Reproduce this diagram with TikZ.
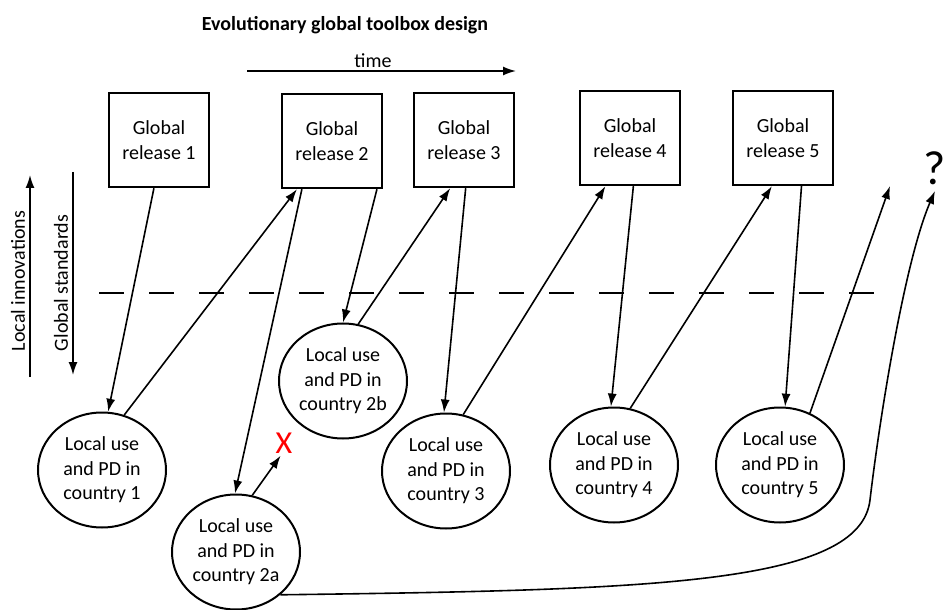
\documentclass[tikz,border=0pt]{standalone}
\usepackage{fontspec}
\setmainfont{Carlito}
\usetikzlibrary{shapes.geometric,arrows.meta}
\begin{document}
\begin{tikzpicture}[x=0.5pt,y=-0.5pt,>={Latex[length=6.5pt,width=4.5pt]},
  release/.style={draw,line width=1.2pt,minimum width=50pt,minimum height=47pt,align=center,inner sep=0pt,font=\fontsize{10}{12.5}\selectfont},
  localuse/.style={draw,ellipse,line width=1pt,minimum width=64pt,minimum height=57.5pt,align=center,inner sep=0pt,font=\fontsize{10}{12.2}\selectfont}]
\useasboundingbox (0,0) rectangle (944,610);

\node[font=\bfseries] (title) at (345,25) {Evolutionary global toolbox design};
\node (timelabel) at (373,61) {time};
\node[rotate=90] (innolabel) at (18,281) {Local innovations};
\node[rotate=90] (stdlabel) at (61,283) {Global standards};

\node[release] (gr1) at (159,140) {Global\\release 1};
\node[release] (gr2) at (332,141) {Global\\release 2};
\node[release] (gr3) at (464,140) {Global\\release 3};
\node[release] (gr4) at (630,138) {Global\\release 4};
\node[release] (gr5) at (783,138) {Global\\release 5};

\node[localuse] (c1) at (102,470) {Local use\\and PD in\\country 1};
\node[localuse] (c2a) at (236,552) {Local use\\and PD in\\country 2a};
\node[localuse] (c2b) at (343,381) {Local use\\and PD in\\country 2b};
\node[localuse] (c3) at (446,471) {Local use\\and PD in\\country 3};
\node[localuse] (c4) at (614,465) {Local use\\and PD in\\country 4};
\node[localuse] (c5) at (780,465) {Local use\\and PD in\\country 5};

\node[red,inner sep=1pt,font=\fontsize{16}{19}\selectfont] (cross) at (284,443) {X};
\node[inner sep=3pt,font=\fontsize{24}{28}\selectfont] (qmark) at (935,168) {?};

\coordinate (time0) at (247,71);
\coordinate (time1) at (516,71);
\coordinate (inno0) at (30,377);
\coordinate (inno1) at (30,175);
\coordinate (std0) at (73,172);
\coordinate (std1) at (73,375);
\coordinate (dash0) at (99,293);
\coordinate (dash1) at (895,293);
\coordinate (next5) at (890,186);
\coordinate (bend) at (870,500);

\path[draw,thick,->] (time0) -- (time1);
\path[draw,thick,->] (inno0) -- (inno1);
\path[draw,thick,->] (std0) -- (std1);
\path[draw,line width=1pt,dash pattern=on 12.5pt off 12.5pt] (dash0) -- (dash1);

\path[draw,thick,->] (gr1.264) -- (c1.84);
\path[draw,thick,->] (c1.68) -- (gr2.234);
\path[draw,thick,->] (gr2.238) -- (c2a.91);
\path[draw,thick,->] (c2a.74) -- (cross.255);
\path[draw,thick,->] (gr2.313) -- (c2b.90);
\path[draw,thick,->] (c2b.75) -- (gr3.254);
\path[draw,thick,->] (gr3.272) -- (c3.92);
\path[draw,thick,->] (c3.73) -- (gr4.243);
\path[draw,thick,->] (gr4.274) -- (c4.93);
\path[draw,thick,->] (c4.74) -- (gr5.257);
\path[draw,thick,->] (gr5.291) -- (c5.85);
\path[draw,thick,->] (c5.60) -- (next5);
\path[draw,thick,->] (c2a.316) .. controls (650,590) and (860,585) .. (bend)
  .. controls (880,415) and (905,260) .. (qmark.south);
\end{tikzpicture}
\end{document}
